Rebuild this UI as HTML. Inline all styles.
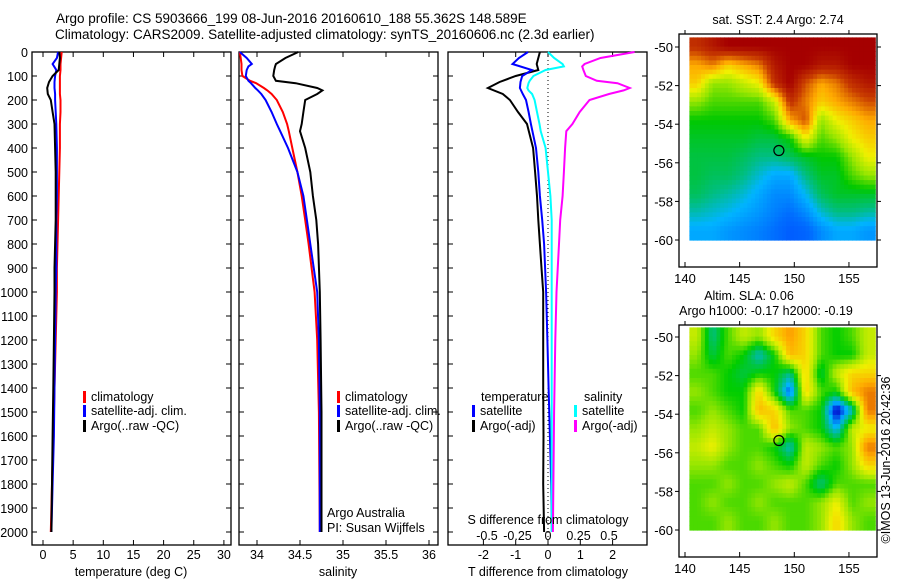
<!DOCTYPE html>
<html><head><meta charset="utf-8"><style>
html,body{margin:0;padding:0;background:#fff;}
svg{display:block;font-family:"Liberation Sans",sans-serif;}
</style></head><body>
<svg id="c" width="900" height="580" viewBox="0 0 900 580" xmlns="http://www.w3.org/2000/svg">
<text x="56" y="23" font-size="13.5">Argo profile: CS 5903666_199 08-Jun-2016 20160610_188 55.362S 148.589E</text>
<text x="55" y="39" font-size="13.5">Climatology: CARS2009. Satellite-adjusted climatology: synTS_20160606.nc (2.3d earlier)</text>
<g id="g"></g>
</svg>
<script>
// ---------- data ----------
const depths = [0,25,50,75,100,125,150,175,200,250,300,400,500,600,700,800,900,1000,1200,1400,1600,1800,2000];
const tempClim = [3.1,3.0,2.9,2.9,2.8,2.8,2.8,2.8,2.9,2.9,2.8,2.8,2.7,2.6,2.5,2.4,2.3,2.3,2.1,1.9,1.7,1.5,1.3];
const tempSat  = [2.5,2.3,1.6,2.2,2.0,1.9,1.9,2.0,2.0,2.1,2.2,2.3,2.3,2.3,2.2,2.2,2.2,2.1,2.0,1.9,1.8,1.6,1.4];
const tempArgo = [2.7,2.8,2.7,2.6,1.6,1.0,0.7,0.8,1.3,1.6,1.9,2.0,2.1,2.1,2.1,2.0,1.9,1.9,1.8,1.7,1.6,1.5,1.4];
const salDepths = [0,25,50,60,75,100,120,130,150,160,175,200,250,300,330,400,500,600,700,800,1000,1200,1500,2000];
const salClim = [33.8,33.81,33.82,33.82,33.82,33.83,33.92,33.99,34.08,34.12,34.17,34.23,34.3,34.35,34.37,34.41,34.47,34.52,34.56,34.6,34.67,34.7,34.72,34.73];
const salSat  = [33.8,33.88,33.94,33.9,33.88,33.87,33.9,33.93,33.98,34.01,34.05,34.1,34.17,34.23,34.27,34.36,34.47,34.54,34.58,34.62,34.7,34.72,34.73,34.73];
const salArgo = [34.48,34.33,34.22,34.21,34.2,34.19,34.22,34.45,34.7,34.76,34.7,34.56,34.54,34.52,34.5,34.56,34.62,34.65,34.69,34.71,34.73,34.74,34.75,34.75];
const tdArgo = [-0.25,-0.3,-0.35,-0.3,-1.0,-1.5,-1.86,-1.4,-1.18,-0.93,-0.65,-0.46,-0.4,-0.34,-0.3,-0.25,-0.2,-0.15,-0.15,-0.15,-0.14,-0.15,-0.12];
const tdSat  = [-0.62,-0.9,-1.1,-0.5,-0.8,-0.85,-0.87,-0.78,-0.68,-0.6,-0.53,-0.37,-0.3,-0.25,-0.18,-0.12,-0.09,-0.06,-0.02,0.02,0.06,0.1,0.12];
const sdSat  = [0,0.05,0.12,0.13,-0.02,-0.12,-0.15,-0.16,-0.17,-0.16,-0.13,-0.11,-0.09,-0.07,-0.06,-0.02,0,0.02,0.03,0.03,0.03,0.03,0.03,0.03];
const sdArgo = [0.71,0.43,0.3,0.28,0.29,0.31,0.4,0.57,0.67,0.62,0.5,0.34,0.26,0.2,0.15,0.14,0.13,0.12,0.1,0.09,0.07,0.06,0.05,0.04];
const depthTicks = [0,100,200,300,400,500,600,700,800,900,1000,1100,1200,1300,1400,1500,1600,1700,1800,1900,2000];
const tempTicks = [0,5,10,15,20,25,30];
const salTicks = [34,34.5,35,35.5,36];
const salTickLabels = ["34","34.5","35","35.5","36"];
const tdTicks = [-2,-1,0,1,2];
const sdTicks = [-0.5,-0.25,0,0.25,0.5];
const sdTickLabels = ["-0.5","-0.25","0","0.25","0.5"];
const lonTicks = [140,145,150,155];
const latTicks = [-50,-52,-54,-56,-58,-60];
const argoLon = 148.589, argoLat = -55.362;
const sstGrid = [
[0.9,0.95,1,1,1,1,1,1,1,1,1,1],
[0.75,0.8,0.7,0.75,0.8,0.95,1,1,0.95,0.95,1,1],
[0.7,0.55,0.55,0.6,0.65,0.9,1,0.85,0.75,0.8,0.9,0.95],
[0.55,0.5,0.5,0.5,0.5,0.6,0.9,0.8,0.7,0.75,0.8,0.85],
[0.45,0.45,0.45,0.45,0.45,0.5,0.75,0.85,0.55,0.65,0.7,0.75],
[0.42,0.42,0.42,0.42,0.4,0.4,0.45,0.65,0.5,0.55,0.65,0.7],
[0.4,0.4,0.4,0.38,0.35,0.35,0.38,0.42,0.45,0.45,0.55,0.65],
[0.4,0.38,0.38,0.35,0.3,0.25,0.25,0.35,0.42,0.42,0.5,0.55],
[0.38,0.35,0.33,0.3,0.25,0.2,0.2,0.28,0.38,0.42,0.42,0.42],
[0.32,0.3,0.28,0.25,0.22,0.18,0.15,0.2,0.3,0.35,0.35,0.33],
[0.25,0.25,0.22,0.2,0.18,0.15,0.1,0.12,0.2,0.25,0.25,0.22]];
const slaGrid = [
[0.6,0.35,0.5,0.6,0.55,0.7,0.8,0.7,0.5,0.45,0.5,0.6],
[0.55,0.4,0.5,0.45,0.3,0.45,0.75,0.7,0.5,0.45,0.45,0.6],
[0.5,0.5,0.45,0.4,0.45,0.45,0.35,0.7,0.4,0.6,0.7,0.7],
[0.55,0.5,0.45,0.45,0.7,0.45,0.15,0.7,0.5,0.45,0.75,0.85],
[0.5,0.55,0.5,0.45,0.75,0.7,0.5,0.5,0.45,0.05,0.3,0.85],
[0.55,0.6,0.55,0.5,0.5,0.75,0.55,0.5,0.45,0.25,0.6,0.65],
[0.6,0.65,0.55,0.5,0.5,0.45,0.3,0.6,0.55,0.5,0.55,0.85],
[0.55,0.55,0.5,0.5,0.55,0.5,0.45,0.6,0.5,0.45,0.55,0.7],
[0.5,0.5,0.55,0.5,0.5,0.55,0.6,0.5,0.35,0.5,0.5,0.5],
[0.5,0.55,0.5,0.5,0.55,0.5,0.5,0.5,0.55,0.65,0.5,0.55],
[0.5,0.5,0.55,0.5,0.5,0.55,0.5,0.5,0.55,0.7,0.55,0.5]];

// ---------- helpers ----------
const NS="http://www.w3.org/2000/svg";
const G=document.getElementById('g');
function mk(tag,attrs,parent){const e=document.createElementNS(NS,tag);for(const k in attrs)e.setAttribute(k,attrs[k]);(parent||G).appendChild(e);return e;}
function txt(x,y,s,anchor,size,extra){const e=mk('text',Object.assign({x:x,y:y,'font-size':size||12.5,'text-anchor':anchor||'start'},extra||{}));e.textContent=s;return e;}
const TOP=52,BOT=545;
const yD=d=>TOP+d*0.24;
const xT=v=>43+v*6.03;
const xS=v=>257+(v-34)*86;
const xTD=v=>548+v*32.3;
const xSD=v=>548+v*122;

function frame(x0,x1,name){
  const r=mk('rect',{x:x0,y:TOP,width:x1-x0,height:BOT-TOP,fill:'none',stroke:'#000','stroke-width':1.3});
  
  
  depthTicks.forEach(d=>{mk('line',{x1:x0,x2:x0+5,y1:yD(d),y2:yD(d),stroke:'#000'});mk('line',{x1:x1,x2:x1-5,y1:yD(d),y2:yD(d),stroke:'#000'});});
}
function xticks(vals,labels,fx){
  vals.forEach((v,i)=>{const x=fx(v);mk('line',{x1:x,x2:x,y1:BOT,y2:BOT-5,stroke:'#000'});mk('line',{x1:x,x2:x,y1:TOP,y2:TOP+5,stroke:'#000'});
    const t=txt(x,559,labels[i],'middle');
    
    });
}
function line(xs,ds,fx,color,name,w){
  const pts=xs.map((v,i)=>fx(v).toFixed(1)+','+yD(ds[i]).toFixed(1)).join(' ');
  const p=mk('polyline',{points:pts,fill:'none',stroke:color,'stroke-width':w||2,'stroke-linejoin':'miter'});
  
  
}
function legend(x,y,color,label){
  mk('rect',{x:x,y:y-10,width:3,height:12,fill:color});
  const t=txt(x+8,y,label,'start',12.5);
  
  
}

// depth labels
depthTicks.forEach(d=>{const t=txt(28,yD(d)+5,String(d),'end',12.5);
  
  });

// panel 1 temperature
frame(32,231,'temperature-panel');
xticks(tempTicks,tempTicks.map(String),xT);
line(tempClim,depths,xT,'#f00','temp-climatology-line');
line(tempSat,depths,xT,'#00f','temp-satellite-line');
line(tempArgo,depths,xT,'#000','temp-argo-line');
let t=txt(131,576,'temperature (deg C)','middle');


legend(83,401,'#f00','climatology');legend(83,415,'#00f','satellite-adj. clim.');legend(83,430,'#000','Argo(..raw -QC)');

// panel 2 salinity
frame(239,438,'salinity-panel');
xticks(salTicks,salTickLabels,xS);
line(salClim,salDepths,xS,'#f00','sal-climatology-line');
line(salSat,salDepths,xS,'#00f','sal-satellite-line');
line(salArgo,salDepths,xS,'#000','sal-argo-line');
t=txt(338,576,'salinity','middle');


legend(337,401,'#f00','climatology');legend(337,415,'#00f','satellite-adj. clim.');legend(337,430,'#000','Argo(..raw -QC)');
t=txt(327,517,'Argo Australia');


t=txt(327,532,'PI: Susan Wijffels');



// panel 3 differences
frame(448,647,'difference-panel');
xticks(tdTicks,tdTicks.map(String),xTD);
mk('line',{x1:xTD(0),x2:xTD(0),y1:TOP,y2:BOT,stroke:'#000','stroke-dasharray':'1,3'});
line(tdArgo,depths,xTD,'#000','t-diff-argo-line');
line(tdSat,depths,xTD,'#00f','t-diff-satellite-line');
line(sdSat,salDepths,xSD,'#0ff','s-diff-satellite-line');
line(sdArgo,salDepths,xSD,'#f0f','s-diff-argo-line');
sdTicks.forEach((v,i)=>{const tt=txt(xSD(v),540,sdTickLabels[i],'middle');
  
  });
t=txt(548,524,'S difference from climatology','middle');


t=txt(548,576,'T difference from climatology','middle');


t=txt(481,401,'temperature');


t=txt(584,401,'salinity');


legend(472,415,'#00f','satellite');legend(472,430,'#000','Argo(-adj)');
legend(574,415,'#0ff','satellite');legend(574,430,'#f0f','Argo(-adj)');

// ---------- maps ----------
const sstStops=[[0,[0,60,255]],[0.15,[0,110,255]],[0.27,[0,180,255]],[0.35,[0,190,130]],[0.45,[0,200,0]],[0.55,[150,230,0]],[0.65,[240,240,0]],[0.75,[255,170,0]],[0.87,[200,60,0]],[1,[165,0,0]]];
const slaStops=[[0,[0,0,140]],[0.12,[0,40,220]],[0.25,[0,180,255]],[0.35,[0,190,130]],[0.45,[0,205,0]],[0.55,[150,230,0]],[0.65,[240,240,0]],[0.78,[255,170,0]],[0.9,[220,90,0]],[1,[180,20,0]]];
function cmap(stops,v){for(let i=1;i<stops.length;i++){if(v<=stops[i][0]){const a=stops[i-1],b=stops[i],f=(v-a[0])/(b[0]-a[0]);return 'rgb('+a[1].map((c,k)=>Math.round(c+(b[1][k]-c)*f)).join(',')+')';}}return 'rgb('+stops[stops.length-1][1].join(',')+')';}
function sample(grid,fr,fc){
  const nr=grid.length,nc=grid[0].length;
  fr=Math.max(0,Math.min(nr-1,fr));fc=Math.max(0,Math.min(nc-1,fc));
  const r0=Math.floor(fr),c0=Math.floor(fc),r1=Math.min(nr-1,r0+1),c1=Math.min(nc-1,c0+1);
  const a=fr-r0,b=fc-c0;
  return grid[r0][c0]*(1-a)*(1-b)+grid[r0][c1]*(1-a)*b+grid[r1][c0]*a*(1-b)+grid[r1][c1]*a*b;
}

function map(top,frameTop,frameBot,grid,stops,name,titles){
  const xL=lon=>685+(lon-140)*10.93;
  const yL=lat=>top+(-50-lat)*19.3;
  const g=mk('g',{});
  
  
  const lon0=140.4,lon1=157.4,lat0=-49.5,lat1=-60;
  const nr=grid.length,nc=grid[0].length;
  const UP=4, fr=nr*UP, fc=nc*UP;
  const dlon=(lon1-lon0)/fc,dlat=(lat0-lat1)/fr;
  const cells=mk('g',{},g);
  for(let r=0;r<fr;r++)for(let c=0;c<fc;c++){
    const v=sample(grid,(r+0.5)/UP-0.5,(c+0.5)/UP-0.5);
    const x=xL(lon0+c*dlon),y=yL(lat0-r*dlat);
    const cell=mk('rect',{x:x.toFixed(1),y:y.toFixed(1),width:(dlon*10.93+0.6).toFixed(1),height:(dlat*19.3+0.6).toFixed(1),fill:cmap(stops,v)},cells);
    
    
  }
  mk('rect',{x:679,y:frameTop,width:198,height:frameBot-frameTop,fill:'none',stroke:'#000','stroke-width':1.3},g);
  lonTicks.forEach(l=>{const x=xL(l);mk('line',{x1:x,x2:x,y1:frameBot,y2:frameBot-5,stroke:'#000'},g);mk('line',{x1:x,x2:x,y1:frameTop,y2:frameTop-4,stroke:'#000'},g);
    const tt=txt(x,frameBot+16,String(l),'middle',13);
    
    });
  latTicks.forEach(l=>{const y=yL(l);mk('line',{x1:679,x2:675,y1:y,y2:y,stroke:'#000'},g);mk('line',{x1:877,x2:881,y1:y,y2:y,stroke:'#000'},g);
    const tt=txt(673,y+5,String(l),'end',13);
    
    });
  const m=mk('circle',{cx:xL(argoLon),cy:yL(argoLat),r:5,fill:'none',stroke:'#000','stroke-width':1.2},g);
  
  
  titles.forEach(tl=>{const tt=txt(tl[0],tl[1],tl[2],'middle',12.5);
    
    });
}
map(47,34,267,sstGrid,sstStops,'sst-map',[[778,24,'sat. SST: 2.4  Argo: 2.74']]);
map(337,325,557,slaGrid,slaStops,'sla-map',[[749,300,'Altim. SLA: 0.06'],[766,315,'Argo h1000: -0.17 h2000: -0.19']]);
t=txt(0,0,'©IMOS 13-Jun-2016 20:42:36','middle',12.5,{transform:'translate(890,460) rotate(-90)'});


</script>
</body></html>
